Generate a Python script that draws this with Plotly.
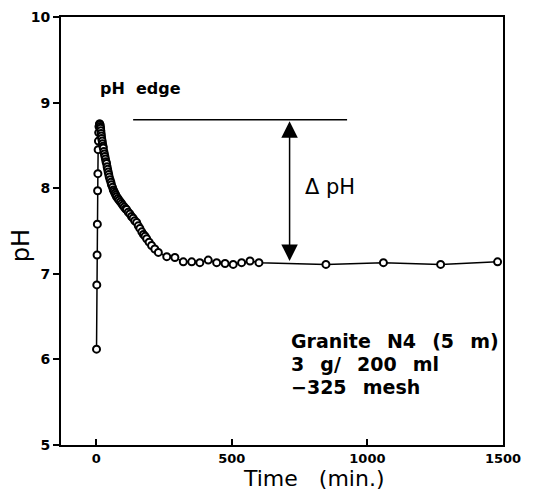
import plotly.graph_objects as go

# Data
time_min = [1, 2, 3, 4, 5, 6, 7, 8, 9, 10,
            12, 13, 14, 15, 16, 17, 18, 19, 20, 22, 23, 25, 26, 28, 30, 32, 34, 36,
            38, 40, 42, 44, 46, 48, 51, 54, 56, 60, 63, 66, 69, 72, 75,
            80, 84, 89, 94, 98, 103, 108, 112, 118, 124, 130, 136, 142, 149, 155,
            161, 168, 174, 180, 186, 195, 204, 216, 229, 260, 290,
            321, 352, 382, 413, 444, 475, 505, 536, 567, 600, 847, 1059, 1270, 1480]
ph_values = [6.12, 6.87, 7.22, 7.58, 7.97, 8.17, 8.45, 8.55, 8.65, 8.72,
             8.75, 8.75, 8.74, 8.72, 8.70, 8.67, 8.64, 8.61, 8.58, 8.55, 8.52, 8.49,
             8.47, 8.43, 8.40, 8.37, 8.34, 8.31, 8.29, 8.25, 8.22, 8.19, 8.16, 8.13,
             8.10, 8.07, 8.04, 8.01, 7.98, 7.96, 7.94, 7.92, 7.90,
             7.88, 7.86, 7.84, 7.82, 7.80, 7.78, 7.76, 7.75, 7.72, 7.70, 7.67, 7.65,
             7.62, 7.60, 7.56, 7.53, 7.49, 7.46, 7.44, 7.41, 7.37, 7.33, 7.29, 7.25,
             7.20, 7.19, 7.14, 7.14, 7.13, 7.16, 7.13, 7.12, 7.11, 7.13, 7.15, 7.13,
             7.11, 7.13, 7.11, 7.14]

x_ticks = [0, 500, 1000, 1500]
y_ticks = [5, 6, 7, 8, 9, 10]

edge_ph = 8.80
plateau_ph = 7.13
edge_line_start, edge_line_end = 136, 925
arrow_time = 713

font_family = "DejaVu Sans, Verdana, sans-serif"
NB = "\u00a0"
GAP = "\u2002" + NB

fig = go.Figure()
fig.add_trace(go.Scatter(
    x=time_min, y=ph_values, mode="lines+markers",
    line=dict(color="black", width=1.5),
    marker=dict(symbol="circle", size=7, color="white",
                line=dict(color="black", width=2)),
    showlegend=False,
))

fig.add_shape(type="line", xref="x", yref="y",
              x0=edge_line_start, x1=edge_line_end, y0=edge_ph, y1=edge_ph,
              line=dict(color="black", width=1.5))

fig.add_annotation(x=arrow_time, y=plateau_ph + 0.02, ax=arrow_time, ay=edge_ph,
                   xref="x", yref="y", axref="x", ayref="y",
                   text="", showarrow=True, arrowhead=2, arrowside="end+start",
                   arrowsize=2.2, arrowwidth=1.5, arrowcolor="black",
                   startarrowhead=2, startarrowsize=2.2)

fig.add_annotation(x=762, y=8.01, text=f"Δ{NB}pH", showarrow=False,
                   xanchor="left", yanchor="middle",
                   font=dict(family=font_family, size=21, color="black"))

fig.add_annotation(x=7, y=9.16, text=f"<b>pH{NB}{NB}edge</b>", showarrow=False,
                   xanchor="left", yanchor="middle",
                   font=dict(family=font_family, size=16, color="black"))

info_lines = [f"Granite{GAP}N4{GAP}(5{GAP}m)", f"3{GAP}g/{GAP}200{GAP}ml", f"−325{GAP}mesh"]
info_y = [6.21, 5.95, 5.68]
for line_text, ly in zip(info_lines, info_y):
    fig.add_annotation(x=710, y=ly, xanchor="left", yanchor="middle",
                       text=f"<b>{line_text}</b>", showarrow=False,
                       font=dict(family=font_family, size=19, color="black"))

# axis titles placed as annotations to match the reference placement
fig.add_annotation(xref="paper", yref="paper", x=0.572, y=-0.079,
                   xanchor="center", yanchor="middle", showarrow=False,
                   text=f"Time{NB}{NB}{NB}(min.)",
                   font=dict(family=font_family, size=22, color="black"))
fig.add_annotation(xref="paper", yref="paper", x=-0.09, y=0.465,
                   xanchor="center", yanchor="middle", showarrow=False,
                   textangle=-90, text="pH",
                   font=dict(family=font_family, size=24, color="black"))

# The page body adds an 8 px margin; compensate so the plot lands where the reference has it.
fig.update_layout(
    width=539, height=484,
    margin=dict(l=53, r=44, t=9, b=47),
    paper_bgcolor="white", plot_bgcolor="white",
    font=dict(family=font_family, color="black"),
    xaxis=dict(range=[-130, 1500], tickvals=x_ticks,
               ticktext=[f"<b>{v}</b>" for v in x_ticks],
               ticks="inside", ticklen=6, tickwidth=1.5, tickcolor="black",
               showline=True, linecolor="black", linewidth=2, mirror=True,
               showgrid=False, zeroline=False, automargin=False,
               tickfont=dict(size=13)),
    yaxis=dict(range=[5, 10], tickvals=y_ticks,
               ticktext=[f"<b>{v}</b>" for v in y_ticks],
               ticks="outside", ticklen=6, tickwidth=1.5, tickcolor="black",
               showline=True, linecolor="black", linewidth=2, mirror=True,
               showgrid=False, zeroline=False, automargin=False,
               tickfont=dict(size=14)),
)

fig.write_html("out.html")
